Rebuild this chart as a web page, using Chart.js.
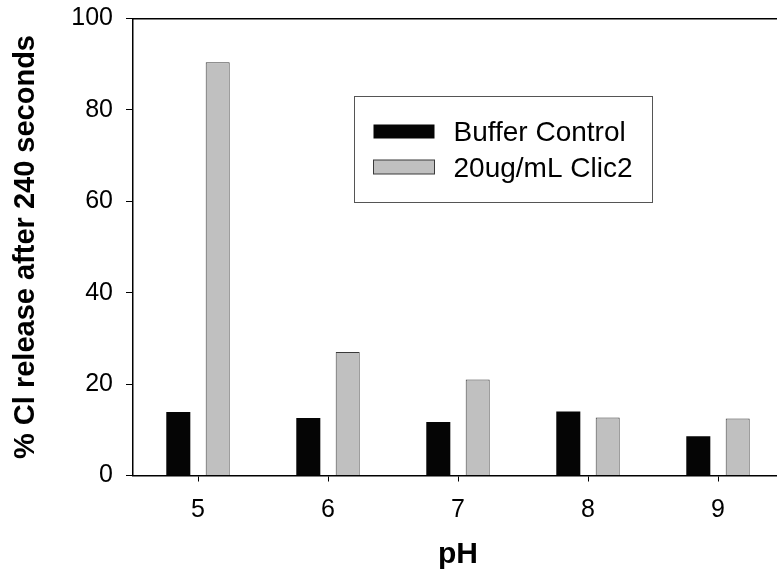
<!DOCTYPE html>
<html>
<head>
<meta charset="utf-8">
<script src="https://cdn.jsdelivr.net/npm/chart.js@4.4.1/dist/chart.umd.min.js"></script>
<style>
  html, body { margin: 0; padding: 0; background: #fff; overflow: hidden; width: 777px; height: 580px; }
  #wrap { width: 783px; height: 580px; }
  canvas { display: block; }
</style>
</head>
<body>
<div id="wrap"><canvas id="c" width="783" height="580"></canvas></div>
<script>
// ---- data ----
const categories = ['5', '6', '7', '8', '9'];
const bufferControl = [13.9, 12.6, 11.7, 14.0, 8.6];
const clic2 = [90.4, 27.0, 21.0, 12.7, 12.5];
const seriesLabels = ['Buffer Control', '20ug/mL Clic2'];
const yMin = 0, yMax = 100, yStep = 20;
const xTitle = 'pH';
const yTitle = '% Cl release after 240 seconds';

const FAM = '"Liberation Sans", Arial, Helvetica, sans-serif';

const legendPlugin = {
  id: 'boxLegend',
  afterDraw(chart) {
    const ctx = chart.ctx;
    ctx.save();
    ctx.strokeStyle = '#555';
    ctx.lineWidth = 1;
    ctx.strokeRect(354.5, 96.5, 298, 106);
    const rows = [131.5, 167];
    chart.data.datasets.forEach((ds, i) => {
      const cy = rows[i];
      ctx.fillStyle = ds.backgroundColor;
      ctx.fillRect(373.5, cy - 7, 61, 14);
      if (ds.borderWidth) {
        ctx.strokeStyle = ds.borderColor;
        ctx.lineWidth = 1;
        ctx.strokeRect(373.5, cy - 7, 61, 14);
      }
      ctx.fillStyle = '#000';
      ctx.font = '28px ' + FAM;
      ctx.textBaseline = 'middle';
      ctx.textAlign = 'left';
      ctx.fillText(ds.label, 453.5, cy + 2);
    });
    ctx.restore();
  }
};

new Chart(document.getElementById('c'), {
  type: 'bar',
  data: {
    labels: categories,
    datasets: [
      { label: seriesLabels[0], data: bufferControl, backgroundColor: '#050505', borderColor: '#000', borderWidth: 0,
        barPercentage: 0.61, categoryPercentage: 0.606 },
      { label: seriesLabels[1], data: clic2, backgroundColor: '#c0c0c0', borderColor: '#3a3a3a', borderWidth: 1,
        barPercentage: 0.61, categoryPercentage: 0.606 }
    ]
  },
  options: {
    responsive: false,
    animation: false,
    devicePixelRatio: 1,
    layout: { padding: 0 },
    plugins: { legend: { display: false }, tooltip: { enabled: false } },
    scales: {
      x: {
        type: 'category', position: 'bottom', offset: true,
        grid: { display: true, offset: false, drawOnChartArea: false, drawTicks: true, tickLength: 6, color: '#000', lineWidth: 1 },
        border: { display: true, color: '#000', width: 1.5 },
        ticks: { font: { size: 25, family: FAM }, color: '#000', padding: 14, maxRotation: 0, autoSkip: false },
        title: { display: true, text: xTitle, color: '#000', font: { size: 30, weight: 'bold', family: FAM }, padding: { top: 0, bottom: 7 } },
        afterFit: s => { s.height = 104.5; s.paddingLeft = 0; s.paddingRight = 0; }
      },
      x2: {
        type: 'category', position: 'top', labels: categories, offset: true,
        grid: { display: false },
        ticks: { display: false },
        border: { display: true, color: '#000', width: 1.5 },
        afterFit: s => { s.height = 18.5; s.paddingLeft = 0; s.paddingRight = 0; }
      },
      y: {
        min: yMin, max: yMax,
        ticks: { stepSize: yStep, font: { size: 25, family: FAM }, color: '#000', padding: 13 },
        grid: { drawOnChartArea: false, drawTicks: true, tickLength: 7, color: '#000', lineWidth: 1 },
        border: { display: true, color: '#000', width: 1.5 },
        title: { display: true, text: yTitle, color: '#000', font: { size: 29, weight: 'bold', family: FAM }, padding: { top: 8.6, bottom: 0 } },
        afterFit: s => { s.width = 133; s.paddingTop = 0; s.paddingBottom = 0; }
      }
    }
  },
  plugins: [legendPlugin]
});
</script>
</body>
</html>
